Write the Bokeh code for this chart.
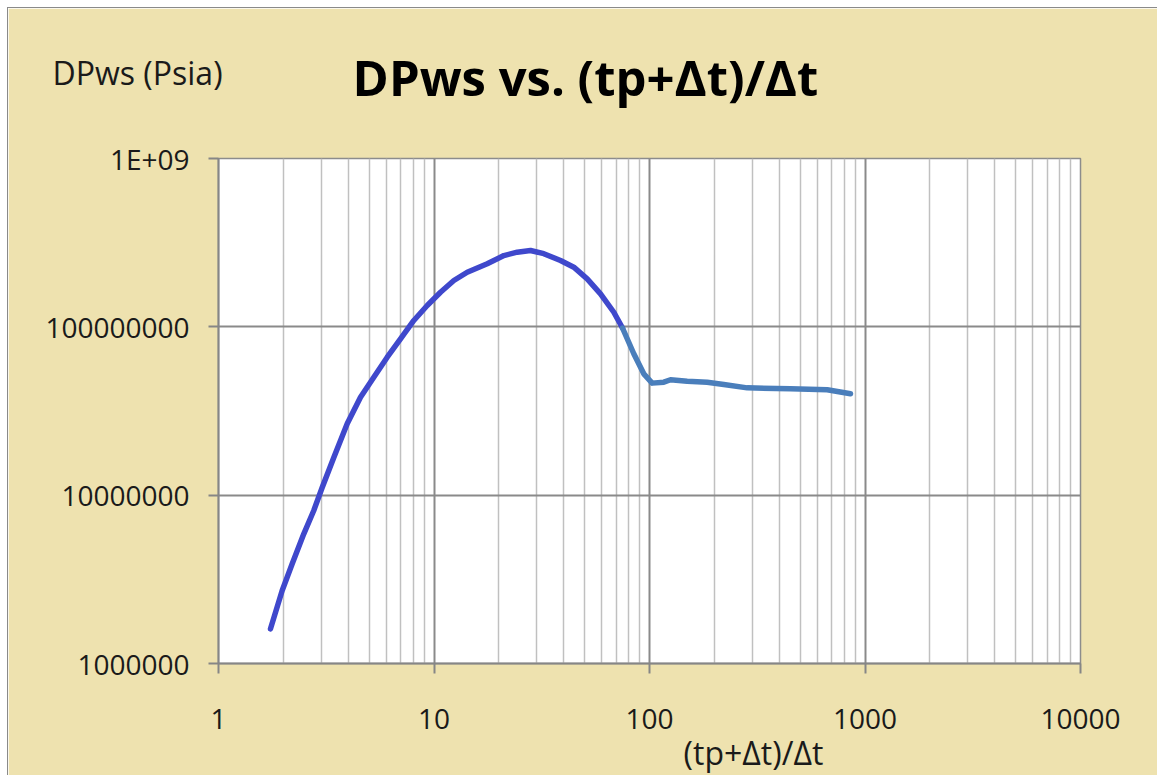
from bokeh.plotting import figure
from bokeh.models import FixedTicker, Label, Range1d
from bokeh.embed import file_html
from bokeh.resources import INLINE

# ---- data ----
x_dark = [1.743, 1.975, 2.198, 2.488, 2.768, 3.028, 3.428, 3.955, 4.559, 5.256,
          6.066, 6.991, 8.06, 9.30, 10.72, 12.36, 14.26, 17.66, 21.09, 24.33,
          28.04, 32.32, 38.64, 44.54, 51.39, 59.25, 68.30, 74.94]
y_dark = [1.607e6, 2.716e6, 3.911e6, 5.89e6, 8.11e6, 1.110e7, 1.674e7, 2.655e7,
          3.82e7, 5.02e7, 6.60e7, 8.49e7, 1.091e8, 1.339e8, 1.606e8, 1.884e8,
          2.111e8, 2.368e8, 2.650e8, 2.776e8, 2.842e8, 2.720e8, 2.477e8, 2.261e8,
          1.929e8, 1.571e8, 1.221e8, 9.84e7]
x_light = [74.94, 84.55, 94.08, 102.9, 116.5, 125.2, 149.6, 185.2, 221.2, 284.1,
           451.1, 667.8, 856.4]
y_light = [9.84e7, 6.92e7, 5.26e7, 4.63e7, 4.69e7, 4.85e7, 4.75e7, 4.69e7, 4.54e7,
           4.34e7, 4.28e7, 4.23e7, 4.00e7]

x_ticks = [1, 10, 100, 1000, 10000]
x_tick_labels = ["1", "10", "100", "1000", "10000"]
y_ticks = [1000000, 10000000, 100000000, 1000000000]
y_tick_labels = ["1000000", "10000000", "100000000", "1E+09"]

title_text = "DPws vs. (tp+Δt)/Δt"
y_label_text = "DPws (Psia)"
x_label_text = "(tp+Δt)/Δt"

BEIGE = "#EEE2AF"
FONT = "Open Sans"
W, H = 1150, 768

x_minor = [d * m for d in x_ticks[:-1] for m in range(2, 10)]

p = figure(width=W, height=H, x_axis_type="log", y_axis_type="log",
           x_range=Range1d(1, 10000), y_range=Range1d(1e6, 1e9),
           output_backend="svg", toolbar_location=None,
           min_border_left=210, min_border_right=78,
           min_border_top=150, min_border_bottom=113,
           background_fill_color="white", border_fill_color=BEIGE)
p.styles = {"margin-left": "7px", "margin-top": "7px",
            "border-left": "1px solid #8a8a8a", "border-top": "1px solid #8a8a8a"}
p.outline_line_color = "#8c8c8c"
p.outline_line_width = 1.5

p.xaxis.ticker = FixedTicker(ticks=x_ticks, minor_ticks=x_minor)
p.yaxis.ticker = FixedTicker(ticks=y_ticks, minor_ticks=[])
p.xaxis.major_label_overrides = {t: s for t, s in zip(x_ticks, x_tick_labels)}
p.yaxis.major_label_overrides = {t: s for t, s in zip(y_ticks, y_tick_labels)}

for ax in (p.xaxis, p.yaxis):
    ax.axis_line_color = "#868686"
    ax.axis_line_width = 2
    ax.major_tick_line_color = "#868686"
    ax.major_tick_line_width = 2
    ax.major_tick_in = 0
    ax.major_tick_out = 10
    ax.minor_tick_in = 0
    ax.minor_tick_out = 0
    ax.major_label_text_font = FONT
    ax.major_label_text_font_size = "28px"
    ax.major_label_text_color = "#1a1a1a"
p.xaxis.major_label_standoff = 35
p.yaxis.major_label_standoff = 19

p.xgrid.grid_line_color = "#8a8a8a"
p.xgrid.grid_line_width = 2
p.xgrid.minor_grid_line_color = "#c0c0c0"
p.xgrid.minor_grid_line_width = 1.5
p.ygrid.grid_line_color = "#8a8a8a"
p.ygrid.grid_line_width = 2

p.line(x_dark, y_dark, line_color="#3F48CC", line_width=5.5,
       line_join="round", line_cap="round")
p.line(x_light, y_light, line_color="#4A7EBB", line_width=5.5,
       line_join="round", line_cap="round")

# transparent overlay figure carrying the free-standing texts (pixel coordinates)
t = figure(width=W, height=H, x_axis_type=None, y_axis_type=None,
           x_range=Range1d(0, W), y_range=Range1d(0, H),
           output_backend="svg", toolbar_location=None,
           min_border=0, min_border_left=0, min_border_right=0,
           min_border_top=0, min_border_bottom=0,
           background_fill_color=None, border_fill_color=None)
t.outline_line_color = None
t.styles = {"position": "absolute", "left": "8px", "top": "8px",
            "pointer-events": "none"}

t.add_layout(Label(x=577, y=700, text=title_text,
                   text_font=FONT, text_font_style="bold", text_font_size="49px",
                   text_color="#000000", text_align="center", text_baseline="middle"))
t.add_layout(Label(x=44, y=704, text=y_label_text,
                   text_font=FONT, text_font_size="32px", text_color="#1a1a1a",
                   text_align="left", text_baseline="middle"))
t.add_layout(Label(x=745, y=24, text=x_label_text,
                   text_font=FONT, text_font_size="32px", text_color="#1a1a1a",
                   text_align="center", text_baseline="middle"))

open("out.html", "w").write(file_html([p, t], INLINE))
